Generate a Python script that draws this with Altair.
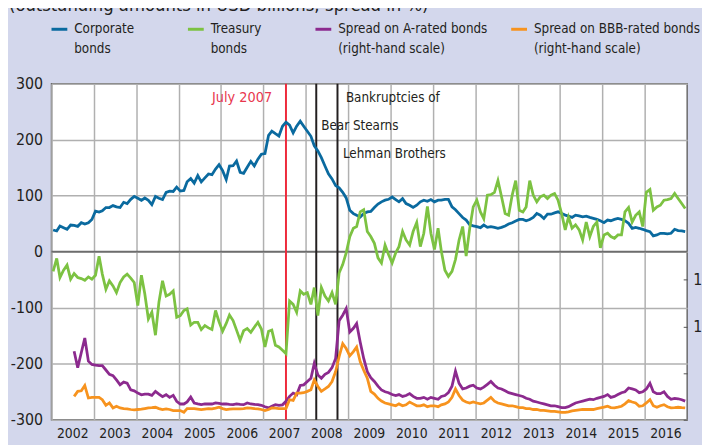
import altair as alt
import pandas as pd

FONT = "DejaVu Sans Condensed, DejaVu Sans, sans-serif"
TXT = "#231f20"
GRID = "#b0b0b0"

# ---------------- data (monthly, Jan 2002 - Dec 2016) ----------------
corporate = [
    38.8, 37, 45.9, 42.9, 40, 47.6, 47, 45.3, 51.8, 49.4, 51.8, 57.6,
    72.3, 70.6, 72.9, 78.8, 78.8, 82.3, 80, 78.8, 88.2, 85.9, 93.5, 98.8,
    95.3, 91.8, 95.9, 91.8, 84.1, 98.8, 95.3, 93, 105.9, 108.2, 107.6, 115.3,
    108.2, 109.4, 124.7, 130.6, 122.4, 135.9, 124.7, 131.8, 138.8, 137.6, 147.6, 155.3,
    144.7, 128.8, 153, 153.5, 161.8, 141.8, 140, 150.6, 161.2, 153, 165.3, 174.1,
    175.3, 207.7, 215.3, 210.6, 206.5, 224, 231.2,
    226, 212, 224, 233, 224, 215, 206, 189, 180, 168,
    153, 139, 130, 118, 114, 106, 96, 74, 68, 65,
    62, 68, 71, 72, 79, 85, 89, 92, 93.5, 97.6,
    93, 89, 94.7, 86, 83, 79, 83, 89, 92, 90,
    93, 89, 92, 92, 93.5, 93.5, 80, 75, 68, 61,
    56.5, 48, 46,
    44.7, 42.9, 47.6, 43.5, 44.7, 43.5, 41.8, 43.5, 45.9, 49.4,
    51.8, 54.7, 57.6, 57.6, 55.3, 57.6, 61.2, 68.2, 65.3, 59.4,
    67, 67, 69.4, 71.2, 68.2, 65.3, 63.5, 61.2, 65.3, 64.1,
    62.4, 63.5, 61.2, 59.4, 57.6, 55.3, 51.8, 56.5, 55.3, 57.6,
    59.4, 57.6, 55.3, 50.6, 41.8, 43.5, 41.8, 40, 37.6, 35.9,
    28.2, 30, 32.9, 32.9, 31.8, 32.9, 40, 37.6, 37, 35.9,
]

treasury = [
    -35, -12, -46, -33, -24, -49, -39, -46, -48, -51,
    -45, -49, -42, -8, -40, -67, -52, -61, -73, -55,
    -45, -40, -47, -55, -96, -42, -75, -120, -108, -149,
    -90, -52, -79, -76, -70, -117, -114, -105, -102, -131,
    -126, -126, -139, -132, -136, -139, -105, -125, -142, -128,
    -113, -123, -140, -158, -141, -137, -144, -135, -126, -138,
    -170, -142, -140, -167, -170, -176, -182, -88, -94, -108,
    -70, -76, -73, -94, -64, -114, -64, -79, -88, -73,
    -94,
    -38, -23, -2, 27, 42, 45, 71, 75, 36, 27,
    15, -11, -20, 12, -5, -20, -2, 9, 36, 21,
    12, 36, 52, 9, 33, 81, 33, 4, 42, 1,
    -33, -44, -35, -14, 21, 45, -8, 42,
    80, 92, 71, 59, 101, 102, 106, 127, 98, 68,
    65, 101, 127, 74, 71, 80, 127, 101, 89, 98,
    101, 95, 101, 104, 92, 68, 39, 62, 42,
    48, 39, 21, 53, 27, 45, 53, 7, 30, 33,
    27, 24, 30, 30, 71, 79, 53, 65, 71, 45,
    106, 111, 74, 80, 83, 92, 93, 95, 104, 95,
    86, 77,
]

# spreads start July 2002 (right-hand scale, %)
spread_a = [
    7.34, 5.58, 7.2, 8.76, 6.28, 5.93, 5.85, 5.79, 5.79, 5.33,
    4.87, 4.73, 4.27, 3.74, 4.03, 3.92, 3.21, 3.1, 2.86, 2.68,
    2.75, 2.75, 2.61, 3.04, 2.75, 2.47, 2.68, 2.4, 2.61, 1.98,
    1.69, 1.69, 1.91, 2.44, 1.8, 1.7, 1.62, 1.69, 1.7, 1.69,
    1.8, 1.75, 1.69, 1.69, 1.65, 1.62, 1.69, 1.65, 1.62, 1.8,
    1.69, 1.65, 1.62, 1.55, 1.4, 1.27, 1.45, 1.62, 1.55, 1.6,
    1.98, 2.51, 2.86, 2.68, 3.67, 3.74, 4.1, 4.45, 6.04, 4.8,
    4.45, 4.87, 5.08, 5.58, 6.57, 10.6, 11.2, 11.9, 9.4, 9.8,
    10.3, 8.3, 6.57, 5.16, 4.5, 4.1,
    3.6, 3.2, 3.0, 2.9, 2.7, 2.6, 2.7, 2.5, 2.6, 2.8,
    2.5, 2.3, 2.3, 2.4, 2.2, 2.4, 2.3, 2.2, 2.5, 2.6,
    2.9, 3.6, 5.2, 3.9, 3.3, 3.4, 3.6, 3.7, 3.4, 3.3,
    3.5, 3.8, 4.1, 3.7, 3.4, 3.3, 3.1, 2.9, 2.8, 2.7,
    2.6, 2.5, 2.3, 2.2, 2.0, 1.9, 1.8, 1.7, 1.6, 1.5,
    1.5, 1.4, 1.3, 1.3, 1.4, 1.6, 1.8, 1.9, 2.0, 2.1,
    2.2, 2.15, 2.3, 2.4, 2.5, 2.7, 2.4, 2.5, 2.7, 2.9,
    3.0, 3.4, 3.3, 3.2, 2.9, 3.0, 3.3, 3.9, 3.0, 2.8,
    2.8, 3.0, 2.5, 2.2, 2.3, 2.25, 2.15, 2.0,
]

spread_bbb = [
    2.51, 3.04, 3.1, 3.67, 2.33, 2.4, 2.4, 2.4, 2.15, 1.55,
    1.8, 1.27, 1.45, 1.27, 1.2, 1.17, 1.1, 1.06, 1.1, 1.13,
    1.2, 1.27, 1.3, 1.34, 1.2, 1.1, 1.17, 1.1, 0.99, 0.99,
    0.99, 0.81, 1.2, 1.2, 1.2, 1.15, 1.1, 1.15, 1.2, 1.17,
    1.25, 1.34, 1.2, 1.1, 1.15, 1.17, 1.17, 1.17, 1.2, 1.27,
    1.25, 1.2, 1.17, 1.1, 0.99, 1.1, 1.27, 1.25, 1.2, 1.2,
    1.2, 2.15, 2.08, 2.86, 2.86, 2.9, 3.04, 3.21, 4.27, 3.57,
    3.04, 3.3, 3.57, 4.1, 5.16, 6.75, 8.16, 7.63, 6.85, 7.3,
    7.8, 6.21, 5.3, 4.45, 3.04, 2.75,
    2.3, 2.0, 1.8, 1.7, 1.6, 1.5, 1.7, 1.5, 1.6, 1.9,
    1.7, 1.5, 1.5, 1.6, 1.4, 1.5, 1.5, 1.4, 1.6, 1.7,
    1.9, 2.4, 3.3, 2.6, 2.1, 1.9, 1.8, 1.9, 1.8, 1.7,
    1.8, 2.1, 2.4, 2.0, 1.8, 1.7, 1.6, 1.5, 1.5, 1.4,
    1.3, 1.3, 1.2, 1.2, 1.1, 1.1, 1.0, 1.0, 0.95, 0.9,
    0.9, 0.85, 0.8, 0.8, 0.85, 0.95, 1.0, 1.05, 1.1, 1.1,
    1.1, 1.1, 1.2, 1.27, 1.35, 1.45, 1.3, 1.27, 1.35, 1.45,
    1.7, 2.05, 1.9, 1.8, 1.45, 1.5, 1.8, 2.15, 1.5, 1.34,
    1.5, 1.62, 1.4, 1.27, 1.3, 1.34, 1.3, 1.27,
]

series_names = ["Corporate bonds", "Treasury bonds",
                "Spread on A-rated bonds", "Spread on BBB-rated bonds"]
series_colors = ["#0a6a9f", "#7cc242", "#8c2a8e", "#f7931e"]

event_dates = ["2007-07-15T00:00:00", "2008-04-01T00:00:00", "2008-10-01T00:00:00"]
event_colors = ["#ee2a3c", "#231f20", "#231f20"]

annot_texts = ["Bankruptcies of", "Bear Stearns", "Lehman Brothers"]
annot_dates = ["2008-10-01T00:00:00", "2008-04-01T00:00:00", "2008-10-01T00:00:00"]
annot_values = [273.5, 224, 175]
annot_dx = [8.5, 5, 5.5]

legend_lines = [["Corporate", "bonds"], ["Treasury", "bonds"],
                ["Spread on A-rated bonds", "(right-hand scale)"],
                ["Spread on BBB-rated bonds", "(right-hand scale)"]]

subtitle = "(outstanding amounts in USD billions; spread in %)"

# ---------------- tables ----------------
months = pd.date_range("2002-01-01", periods=180, freq="MS") + pd.Timedelta(days=14)
start = len(months) - len(spread_a)

left_df = pd.concat([
    pd.DataFrame({"date": months, "value": corporate, "series": series_names[0]}),
    pd.DataFrame({"date": months, "value": treasury, "series": series_names[1]}),
])
right_df = pd.concat([
    pd.DataFrame({"date": months[start:], "value": spread_a, "series": series_names[2]}),
    pd.DataFrame({"date": months[start:], "value": spread_bbb, "series": series_names[3]}),
])
events_df = pd.DataFrame({"date": event_dates, "color": event_colors})
red_df = pd.DataFrame({"date": [event_dates[0]], "value": [273.5], "text": ["July 2007"]})

# legend layout (pixels relative to plot origin)
leg_sym_x = [0, 138, 267, 465]
leg_rows, sym_rows = [], []
for i, (l1, l2) in enumerate(legend_lines):
    leg_rows.append({"px": leg_sym_x[i] + 23, "py": -55, "t": l1})
    leg_rows.append({"px": leg_sym_x[i] + 23, "py": -35, "t": l2})
    sym_rows.append({"px": leg_sym_x[i], "px2": leg_sym_x[i] + 16, "py": -55,
                     "c": series_colors[i]})
leg_df = pd.DataFrame(leg_rows)
sym_df = pd.DataFrame(sym_rows)

# ---------------- scales / axes ----------------
x_scale = alt.Scale(domain=[alt.DateTime(year=2002, month=1, date=1),
                            alt.DateTime(year=2017, month=1, date=1)])
x_axis = alt.Axis(values=[alt.DateTime(year=y, month=1, date=1) for y in range(2002, 2017)],
                  format="%Y", labelOffset=21, labelFlush=False, labelOverlap=False,
                  grid=True, gridColor=GRID, gridWidth=1.5, ticks=False, domain=False,
                  labelFontSize=14, labelPadding=7, title=None)
X = alt.X("date:T", scale=x_scale, axis=x_axis)
Xn = alt.X("date:T", scale=x_scale)

y_left = alt.Y("value:Q", scale=alt.Scale(domain=[-300, 300], nice=False),
               axis=alt.Axis(values=list(range(-300, 301, 50)), grid=True, gridColor=GRID,
                             gridWidth=1.5, ticks=False, domain=False, labelFontSize=16,
                             labelExpr="'' + datum.value",
                             labelPadding=9, labelFlush=False, title=None))
y_right = alt.Y("value:Q", scale=alt.Scale(domain=[0, 36], nice=False),
                axis=alt.Axis(orient="right", values=[0, 5, 10, 15], grid=False,
                              domain=False, tickSize=4, offset=-4, tickColor="#555",
                              labelAlign="right", labelPadding=24, labelFontSize=16,
                              labelFlush=False, title=None))

color_scale = alt.Scale(domain=series_names, range=series_colors)

# ---------------- layers ----------------
base_lines = alt.Chart(left_df).mark_line(strokeWidth=2.8).encode(
    x=X, y=y_left, color=alt.Color("series:N", scale=color_scale, legend=None),
    detail="series:N")

zero = alt.Chart(pd.DataFrame({"value": [0]})).mark_rule(color="#6d6d6d", strokeWidth=1.8).encode(
    y=alt.Y("value:Q"))

events = alt.Chart(events_df).mark_rule(strokeWidth=2).encode(
    x=Xn, color=alt.Color("color:N", scale=None))

annot_layers = []
for t, d, v, dx in zip(annot_texts, annot_dates, annot_values, annot_dx):
    annot_layers.append(
        alt.Chart(pd.DataFrame({"date": [d], "value": [v], "text": [t]})).mark_text(
            align="left", dx=dx, fontSize=13.5, font=FONT, color=TXT, baseline="middle"
        ).encode(x=Xn, y=alt.Y("value:Q"), text="text:N"))

red_txt = alt.Chart(red_df).mark_text(align="right", dx=-14, fontSize=14.5, font=FONT,
                                      color="#e8374e", baseline="middle").encode(
    x=Xn, y=alt.Y("value:Q"), text="text:N")

left = alt.layer(zero, events, base_lines, *annot_layers, red_txt)

right = alt.Chart(right_df).mark_line(strokeWidth=2.8).encode(
    x=Xn, y=y_right,
    color=alt.Color("series:N", scale=color_scale, legend=None),
    detail="series:N")

leg_text = alt.Chart(leg_df).mark_text(align="left", baseline="middle", fontSize=13.5,
                                       font=FONT, color=TXT).encode(
    x=alt.X("px:Q", scale=None, axis=None), y=alt.Y("py:Q", scale=None, axis=None), text="t:N")
leg_sym = alt.Chart(sym_df).mark_rule(strokeWidth=3).encode(
    x=alt.X("px:Q", scale=None, axis=None), x2="px2:Q",
    y=alt.Y("py:Q", scale=None, axis=None), color=alt.Color("c:N", scale=None))
sub = alt.Chart(pd.DataFrame({"t": [subtitle]})).mark_text(
    align="left", baseline="alphabetic", fontSize=18.5, font=FONT, color=TXT).encode(
    x=alt.value(-43), y=alt.value(-73), text="t:N")

chart = alt.layer(left, right, leg_sym, leg_text, sub).resolve_scale(
    y="independent", color="independent"
).properties(
    width=643, height=340,
    padding={"left": 44, "top": 74, "right": 15, "bottom": 23},
    autosize=alt.AutoSizeParams(type="none"),
    background="#d3d7ec",
).configure_view(
    fill="white", stroke="#6b6b6b", strokeWidth=1.5
).configure_axis(
    labelFont=FONT, labelColor=TXT
)

chart.save("out.html", embed_options={"renderer": "svg", "actions": False})
